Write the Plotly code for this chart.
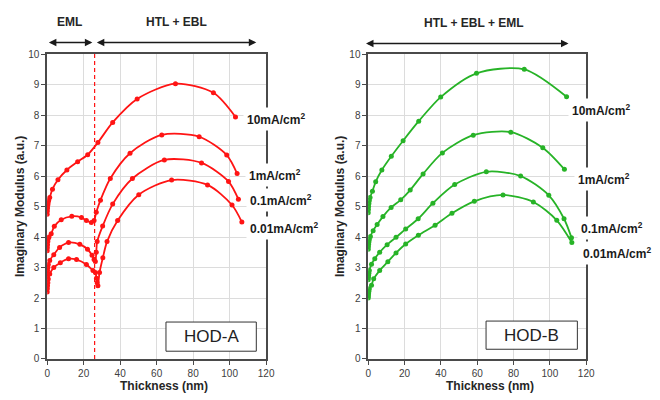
import plotly.graph_objects as go

# ---------------- data ----------------
series_names = ["10mA/cm<sup>2</sup>", "1mA/cm<sup>2</sup>", "0.1mA/cm<sup>2</sup>", "0.01mA/cm<sup>2</sup>"]

a_10_x = [0, 0.1, 0.2, 0.35, 0.5, 0.8, 1.4, 2.9, 5.9, 10.8, 16.7, 22.2, 27.8, 35.9, 49.3, 70.3, 91.1, 103.2]
a_10_y = [4.75, 4.85, 4.95, 5.05, 5.12, 5.2, 5.3, 5.57, 5.88, 6.2, 6.47, 6.7, 7.1, 7.76, 8.53, 9.03, 8.73, 7.94]

a_1_x = [0, 0.1, 0.2, 0.35, 0.6, 1.0, 2.2, 3.9, 7.7, 13.5, 18.8, 21.5, 24.2, 25.7, 26.9, 29.2, 34.6, 45.4, 62.8, 83.3, 98.4, 104.1]
a_1_y = [3.55, 3.65, 3.75, 3.85, 3.95, 4.0, 4.11, 4.35, 4.57, 4.68, 4.64, 4.54, 4.48, 4.54, 4.81, 5.21, 5.92, 6.75, 7.35, 7.29, 6.69, 6.08]

a_01_x = [0, 0.1, 0.2, 0.35, 0.6, 1.4, 3.6, 6.8, 11.7, 17.9, 22.1, 24.6, 25.7, 26.4, 26.9, 27.4, 30.4, 35.9, 46.7, 64.2, 84.6, 99.4, 104.8]
a_01_y = [2.7, 2.8, 2.9, 3.0, 3.1, 3.23, 3.42, 3.66, 3.82, 3.76, 3.6, 3.4, 3.26, 3.2, 3.5, 3.85, 4.36, 5.08, 5.92, 6.53, 6.43, 5.82, 5.24]

a_001_x = [0, 0.1, 0.2, 0.35, 0.6, 1.4, 3.6, 7.2, 11.7, 16.1, 21.5, 25.1, 26.4, 27.0, 27.4, 27.8, 28.7, 30.5, 32.8, 38.6, 50.2, 68.2, 87.9, 101.3, 106.7]
a_001_y = [2.2, 2.3, 2.4, 2.5, 2.62, 2.79, 3.0, 3.16, 3.29, 3.26, 3.1, 2.9, 2.84, 2.65, 2.5, 2.4, 2.84, 3.32, 3.85, 4.54, 5.39, 5.87, 5.71, 5.05, 4.49]

b_10_x = [0, 0.1, 0.2, 0.35, 0.6, 1.0, 2.3, 4.1, 7.5, 12.7, 19.2, 27.8, 39.9, 59.6, 85.9, 109.2]
b_10_y = [4.8, 4.9, 5.0, 5.1, 5.2, 5.3, 5.5, 5.81, 6.2, 6.65, 7.16, 7.8, 8.59, 9.37, 9.5, 8.6]

b_1_x = [0, 0.1, 0.2, 0.35, 0.6, 1.2, 2.7, 4.9, 8.1, 12.6, 17.9, 23.1, 30.2, 40.8, 57.8, 78.5, 96.1, 108.0]
b_1_y = [3.6, 3.68, 3.76, 3.84, 3.92, 4.02, 4.21, 4.41, 4.67, 4.97, 5.22, 5.54, 6.07, 6.76, 7.34, 7.44, 6.93, 6.22]

b_01_x = [0, 0.1, 0.2, 0.35, 0.6, 1.8, 3.6, 6.3, 10.4, 15.3, 20.6, 27.5, 35.6, 47.6, 65.0, 83.9, 99.4, 107.8, 111.9]
b_01_y = [2.6, 2.67, 2.74, 2.81, 2.9, 3.11, 3.29, 3.5, 3.75, 3.99, 4.26, 4.6, 5.11, 5.72, 6.14, 6.0, 5.37, 4.6, 3.98]

b_001_x = [0, 0.1, 0.2, 0.35, 0.6, 1.8, 3.0, 6.3, 10.8, 15.3, 20.6, 27.6, 36.8, 46.1, 58.4, 74.2, 90.9, 103.8, 112.1]
b_001_y = [2.0, 2.07, 2.14, 2.22, 2.3, 2.42, 2.63, 2.9, 3.19, 3.48, 3.77, 4.06, 4.39, 4.78, 5.17, 5.38, 5.15, 4.55, 3.82]

eml_boundary = 26
x_ticks = [0, 20, 40, 60, 80, 100, 120]
y_ticks = [0, 1, 2, 3, 4, 5, 6, 7, 8, 9, 10]

RED = "#ff1414"
GREEN = "#27b327"
W, H = 660, 400

def px(x):
    return x / W

def py(y):
    return 1 - y / H

fig = go.Figure()

for xs, ys in [(a_10_x, a_10_y), (a_1_x, a_1_y), (a_01_x, a_01_y), (a_001_x, a_001_y)]:
    fig.add_trace(go.Scatter(x=xs, y=ys, mode="lines+markers", xaxis="x", yaxis="y",
                             line=dict(color=RED, width=1.8, shape="spline", smoothing=0.8),
                             marker=dict(color=RED, size=5), showlegend=False))
for xs, ys in [(b_10_x, b_10_y), (b_1_x, b_1_y), (b_01_x, b_01_y), (b_001_x, b_001_y)]:
    fig.add_trace(go.Scatter(x=xs, y=ys, mode="lines+markers", xaxis="x2", yaxis="y2",
                             line=dict(color=GREEN, width=1.8, shape="spline", smoothing=0.8),
                             marker=dict(color=GREEN, size=5), showlegend=False))

axis_common = dict(showline=True, linecolor="#4a4a4a", linewidth=1.5, mirror=True,
                   showgrid=True, gridcolor="#dcdcdc", gridwidth=1,
                   zeroline=False, ticks="outside", ticklen=4, tickcolor="#4a4a4a",
                   tickfont=dict(family="Arial, Liberation Sans", size=10, color="#404040"))

fig.update_layout(
    width=W, height=H, margin=dict(l=0, r=0, t=0, b=0),
    paper_bgcolor="white", plot_bgcolor="white",
    xaxis=dict(domain=[px(45), px(268)], range=[0, 120], tickvals=x_ticks, anchor="y", **axis_common),
    yaxis=dict(domain=[py(364), py(50.5)], range=[0, 10], tickvals=y_ticks, anchor="x", **axis_common),
    xaxis2=dict(domain=[px(372), px(594)], range=[0, 120], tickvals=x_ticks, anchor="y2", **axis_common),
    yaxis2=dict(domain=[py(364), py(50.5)], range=[0, 10], tickvals=y_ticks, anchor="x2", **axis_common),
)

# dashed boundary line
fig.add_shape(type="line", xref="x", yref="y", x0=eml_boundary, x1=eml_boundary, y0=0, y1=10,
              line=dict(color=RED, width=1.2, dash="4px,3px"))

# HOD boxes
fig.add_shape(type="rect", xref="paper", yref="paper", x0=px(166), x1=px(258), y0=py(356), y1=py(326),
              line=dict(color="#333333", width=1), fillcolor="white")
fig.add_shape(type="rect", xref="paper", yref="paper", x0=px(492), x1=px(585), y0=py(354), y1=py(325),
              line=dict(color="#333333", width=1), fillcolor="white")

bold = dict(family="Arial, Liberation Sans", size=12, color="#262626")

def text(x, y, t, font=bold, xanchor="center", bg=None, angle=0, pad=0):
    fig.add_annotation(x=px(x), y=py(y), xref="paper", yref="paper", text=t, showarrow=False,
                       font=font, xanchor=xanchor, yanchor="middle", textangle=angle,
                       bgcolor=bg, borderpad=pad)

text(212, 341, "HOD-A", font=dict(family="Arial, Liberation Sans", size=17, color="#222222"))
text(538.5, 339.5, "HOD-B", font=dict(family="Arial, Liberation Sans", size=17, color="#222222"))

# headers
text(68, 17, "<b>EML</b>")
text(177, 17, "<b>HTL + EBL</b>")
text(480, 19, "<b>HTL + EBL + EML</b>")

# double arrows
def darrow(x0, x1, y):
    fig.add_annotation(x=px(x1), y=py(y), xref="paper", yref="paper", ax=-(x1 - x0), ay=0,
                       axref="pixel", ayref="pixel", text="", showarrow=True,
                       arrowhead=2, arrowside="end+start", arrowsize=1, arrowwidth=1.5,
                       arrowcolor="#1a1a1a")

darrow(46, 91, 38.5)
darrow(97, 258, 38.5)
darrow(372, 576, 39.5)

# series labels
bold_lbl = dict(family="Arial, Liberation Sans", size=12, color="#1a1a1a")
left_lbl_y = [117, 175, 200, 229]
left_lbl_x = [244, 246, 247, 247]
right_lbl_y = [108, 179, 229, 255]
right_lbl_x = [575, 582, 585, 587]
for t, x, y in zip(series_names, left_lbl_x, left_lbl_y):
    text(x, y, "<b>" + t + "</b>", font=bold_lbl, xanchor="left", bg="white", pad=3)
for t, x, y in zip(series_names, right_lbl_x, right_lbl_y):
    text(x, y, "<b>" + t + "</b>", font=bold_lbl, xanchor="left", bg="white", pad=3)

# axis titles
text(18, 207, "<b>Imaginary Modulus (a.u.)</b>", angle=-90)
text(344, 207, "<b>Imaginary Modulus (a.u.)</b>", angle=-90)
text(164, 392, "<b>Thickness (nm)</b>")
text(496, 392, "<b>Thickness (nm)</b>")

fig.write_html("out.html")
